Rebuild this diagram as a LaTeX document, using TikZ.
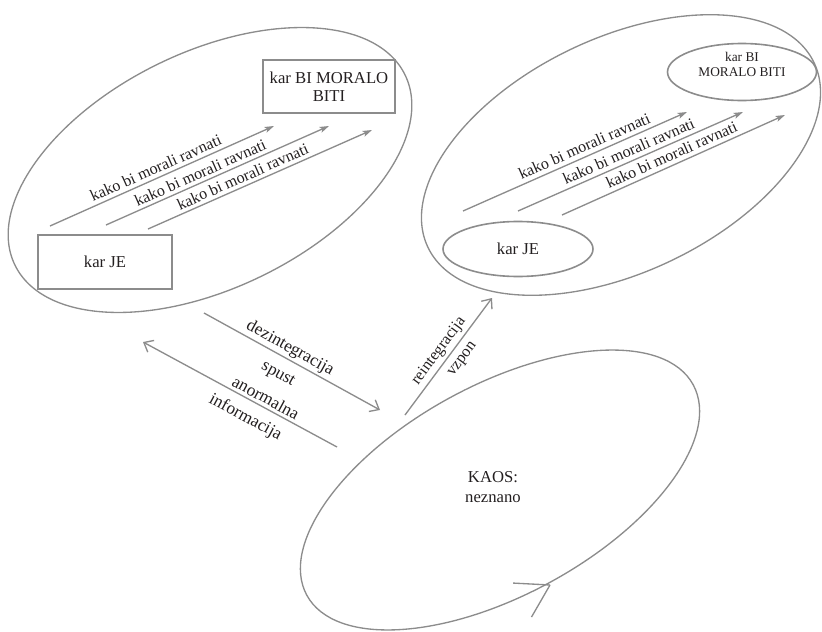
\documentclass[tikz,border=0pt]{standalone}
\usepackage{fontspec}
\setmainfont{Liberation Serif}
\usetikzlibrary{shapes.geometric,arrows.meta}
\definecolor{linegray}{HTML}{8C8C8C}
\definecolor{ink}{HTML}{231F20}
\begin{document}
\begin{tikzpicture}[x=0.75pt,y=0.75pt,
  line/.style={draw=linegray, line width=1pt},
  bigell/.style={ellipse, draw=linegray, line width=1pt, inner sep=0pt},
  box/.style={rectangle, draw=linegray, line width=1.2pt, align=center, text=ink, inner sep=1pt},
  smallell/.style={ellipse, draw=linegray, line width=1.2pt, inner sep=0pt},
  txt/.style={text=ink, align=center, inner sep=1pt},
  kako/.style={line, -{Stealth[length=7pt,width=4.5pt,inset=1.5pt]}},
  kakolbl/.style={sloped, font=\fontsize{12}{12}\selectfont, text=ink, inner sep=1pt},
  mid/.style={line, -{Straight Barb[length=6pt,width=10pt]}},
  midrev/.style={line, {Straight Barb[length=6pt,width=10pt]}-},
  midlbl/.style={sloped, font=\fontsize{13}{13}\selectfont, text=ink, inner sep=1pt}]
\useasboundingbox (0,0) rectangle (822,-632);

% big ellipses
\node[bigell, minimum width=325.5pt, minimum height=177pt, rotate=26] (L) at (210,-170) {};
\node[bigell, minimum width=321pt, minimum height=175.5pt, rotate=25.6] (R) at (621,-155) {};
\node[bigell, minimum width=330pt, minimum height=157.5pt, rotate=28.6] (K) at (500,-490) {};

% left boxes
\node[box, minimum width=100.5pt, minimum height=40.5pt, font=\fontsize{12.5}{13.5}\selectfont] (lje) at (105,-262) {kar JE};
\node[box, minimum width=99pt, minimum height=39.75pt, font=\fontsize{12.5}{13.5}\selectfont] (lbi) at (329,-86.5) {kar BI MORALO\\BITI};

% right inner ellipses
\node[smallell, minimum width=112.5pt, minimum height=41.25pt, font=\fontsize{12.5}{13.5}\selectfont, text=ink] (rje) at (518,-249) {kar JE};
\node[smallell, minimum width=111.75pt, minimum height=42.75pt] (rbi) at (742,-72) {};
\node[txt, font=\fontsize{10}{11.25}\selectfont] (rbit) at (742,-64) {kar BI\\MORALO BITI};

% KAOS text
\node[txt, font=\fontsize{12.5}{15}\selectfont] (kaos) at (493,-487) {KAOS:\\neznano};

% left arrows
\coordinate (la1) at (50,-226);  \coordinate (lb1) at (274,-126);
\coordinate (la2) at (106,-225); \coordinate (lb2) at (329,-126);
\coordinate (la3) at (148,-229); \coordinate (lb3) at (372,-130);
\draw[kako] (la1) -- node[kakolbl, pos=0.49, above=1.7pt] {kako bi morali ravnati} (lb1);
\draw[kako] (la2) -- node[kakolbl, pos=0.44, above=1.5pt] {kako bi morali ravnati} (lb2);
\draw[kako] (la3) -- node[kakolbl, pos=0.44, above=1.5pt] {kako bi morali ravnati} (lb3);

% right arrows
\coordinate (ra1) at (463,-211); \coordinate (rb1) at (687,-112);
\coordinate (ra2) at (518,-211); \coordinate (rb2) at (743,-112);
\coordinate (ra3) at (562,-215); \coordinate (rb3) at (785,-115);
\draw[kako] (ra1) -- node[kakolbl, pos=0.56, above=2pt] {kako bi morali ravnati} (rb1);
\draw[kako] (ra2) -- node[kakolbl, pos=0.51, above=2pt] {kako bi morali ravnati} (rb2);
\draw[kako] (ra3) -- node[kakolbl, pos=0.51, above=2pt] {kako bi morali ravnati} (rb3);

% middle arrows
\coordinate (da) at (204,-313); \coordinate (db) at (380,-410);
\coordinate (ia) at (143,-342); \coordinate (ib) at (337,-447);
\coordinate (ua) at (405,-415); \coordinate (ub) at (492,-298);
\draw[mid] (da) -- node[midlbl, pos=0.46, above=0.5pt] {dezintegracija}
                   node[midlbl, pos=0.47, below=7.4pt] {spust} (db);
\draw[midrev] (ia) -- node[midlbl, pos=0.61, above=1.2pt] {anormalna}
                      node[midlbl, pos=0.57, below=5.7pt] {informacija} (ib);
\draw[mid] (ua) -- node[sloped, txt, font=\fontsize{12}{12}\selectfont, pos=0.49, above=1.3pt] {reintegracija}
                   node[sloped, txt, font=\fontsize{12}{12}\selectfont, pos=0.54, below=4.7pt] {vzpon} (ub);

% arrowhead on KAOS ellipse
\coordinate (kt) at (550,-585);
\draw[line] (kt) -- ++(177:37);
\draw[line] (kt) -- ++(240:37);
\end{tikzpicture}
\end{document}
